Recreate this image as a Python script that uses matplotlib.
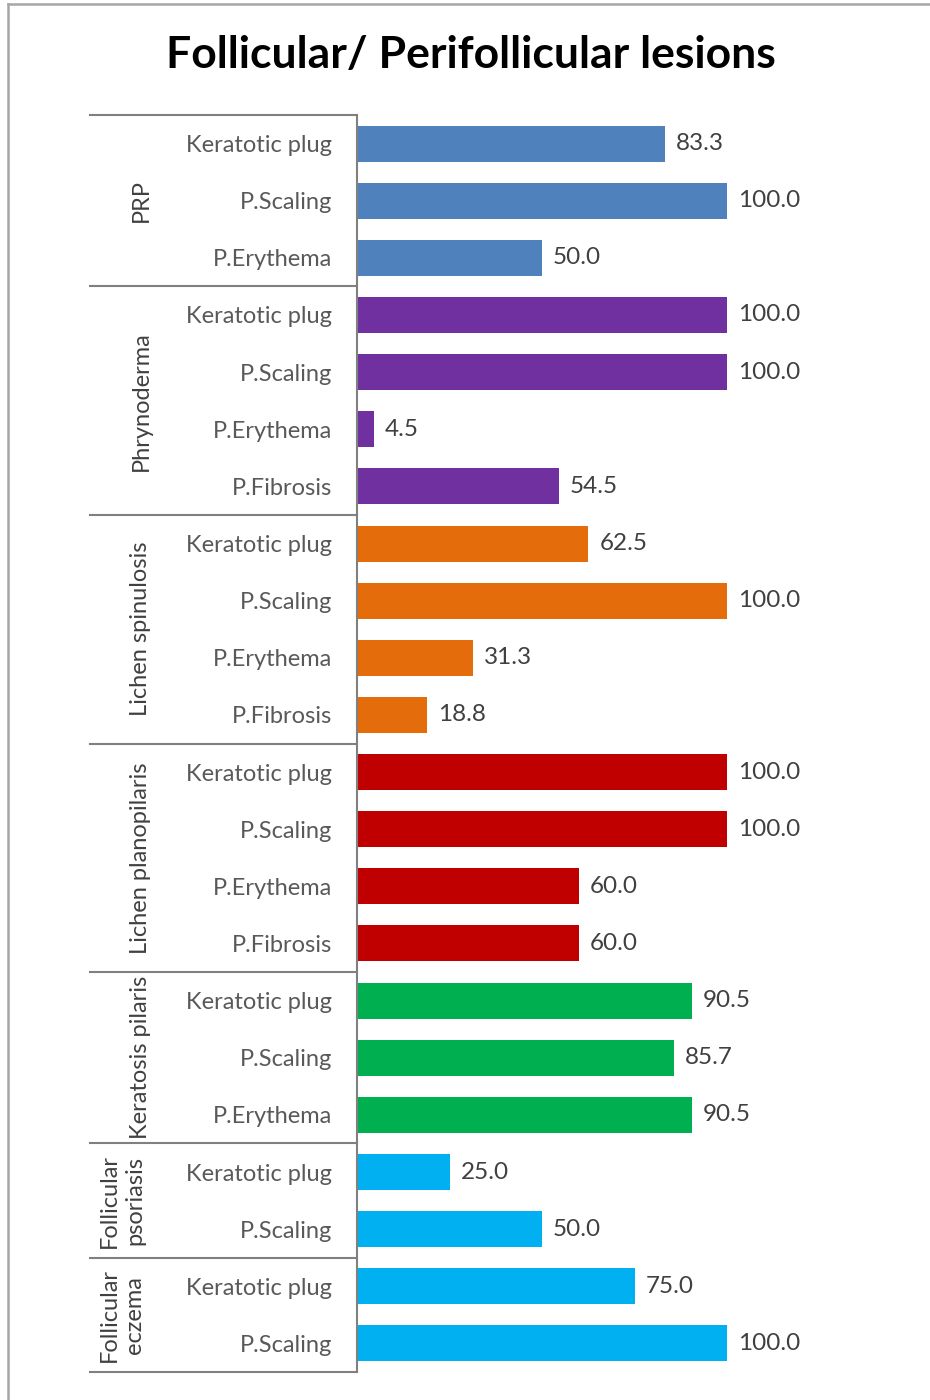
import matplotlib.pyplot as plt
from matplotlib.lines import Line2D
import matplotlib.transforms as mtransforms

plt.rcParams['font.family'] = ['Lato', 'DejaVu Sans']

# lesion types (bars, top to bottom) and their percentages
lesions = ["Keratotic plug", "P.Scaling", "P.Erythema",
           "Keratotic plug", "P.Scaling", "P.Erythema", "P.Fibrosis",
           "Keratotic plug", "P.Scaling", "P.Erythema", "P.Fibrosis",
           "Keratotic plug", "P.Scaling", "P.Erythema", "P.Fibrosis",
           "Keratotic plug", "P.Scaling", "P.Erythema",
           "Keratotic plug", "P.Scaling",
           "Keratotic plug", "P.Scaling"]
values = [83.3, 100.0, 50.0,
          100.0, 100.0, 4.5, 54.5,
          62.5, 100.0, 31.3, 18.8,
          100.0, 100.0, 60.0, 60.0,
          90.5, 85.7, 90.5,
          25.0, 50.0,
          75.0, 100.0]

# disease groups: name, number of bars, colour
groups = ["PRP", "Phrynoderma", "Lichen spinulosis", "Lichen planopilaris",
          "Keratosis pilaris", "Follicular\npsoriasis", "Follicular\neczema"]
group_sizes = [3, 4, 4, 4, 3, 2, 2]
group_colors = ["#4F81BD", "#7030A0", "#E46C0A", "#C00000",
                "#00B050", "#00B0F0", "#00B0F0"]

W, H = 930, 1400
fig = plt.figure(figsize=(W / 100, H / 100), dpi=100)

# outer chart frame (top and left edges visible)
fig.add_artist(Line2D([8 / W, 8 / W], [0, 1 - 4 / H], color="#A6A6A6", lw=1.8))
fig.add_artist(Line2D([8 / W, 1], [1 - 4 / H, 1 - 4 / H], color="#A6A6A6", lw=1.8))

ax_left, ax_right, ax_top, ax_bottom = 357, 900, 115, 1372
ax = fig.add_axes([ax_left / W, 1 - ax_bottom / H,
                   (ax_right - ax_left) / W, (ax_bottom - ax_top) / H])

colors = []
for c, n in zip(group_colors, group_sizes):
    colors += [c] * n

pos = list(range(len(values)))
ax.barh(pos, values, height=0.63, color=colors)
ax.set_ylim(len(values) - 0.5, -0.5)
ax.set_xlim(0, (ax_right - ax_left) / 3.7)

for p, v in zip(pos, values):
    ax.text(v + 3.0, p, f"{v:.1f}", va="center", ha="left",
            fontsize=17.5, color="#404040")

ax.set_yticks(pos)
ax.set_yticklabels(lesions, fontsize=17, color="#595959")
ax.tick_params(axis="y", length=0, pad=18)
ax.set_xticks([])
for s in ["top", "right", "bottom"]:
    ax.spines[s].set_visible(False)
ax.spines["left"].set_color("#808080")
ax.spines["left"].set_linewidth(1.5)

# group separators and group names
trans = mtransforms.blended_transform_factory(ax.transAxes, ax.transData)
x0 = (90 - ax_left) / (ax_right - ax_left)
xlab = (141 - ax_left) / (ax_right - ax_left)
xlab2 = (122 - ax_left) / (ax_right - ax_left)
start = 0
edges = [-0.5]
for name, n in zip(groups, group_sizes):
    end = start + n
    edges.append(end - 0.5)
    ax.text(xlab2 if "\n" in name else xlab,
            (start + end - 1) / 2, name, transform=trans, rotation=90,
            ha="center", va="center", fontsize=17, color="#404040",
            linespacing=1.25)
    start = end
for e in edges:
    ax.add_line(Line2D([x0, 0], [e, e], transform=trans, color="#808080",
                       lw=1.5, clip_on=False))

fig.text(471 / W, 1 - 55 / H, "Follicular/ Perifollicular lesions",
         ha="center", va="center", fontsize=32, fontweight="bold", color="black")

fig.savefig("out.png", dpi=100)
